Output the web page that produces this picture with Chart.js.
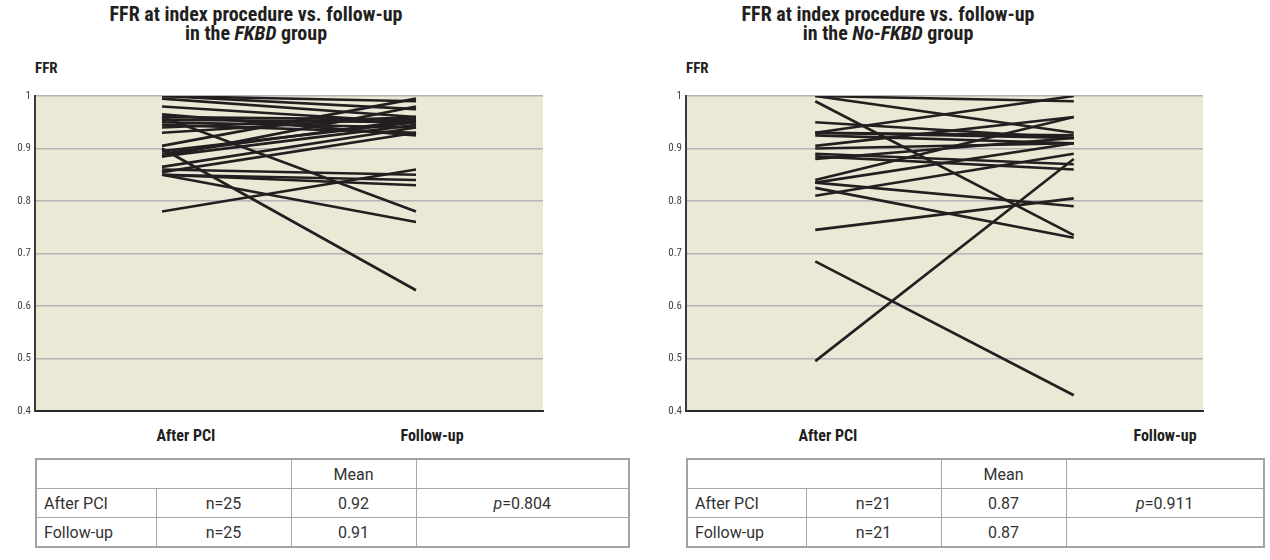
<!DOCTYPE html>
<html>
<head>
<meta charset="utf-8">
<script src="https://cdn.jsdelivr.net/npm/chart.js@4.4.1/dist/chart.umd.min.js"></script>
<style>
  body { margin: 0; background: #fff; width: 1270px; height: 560px; position: relative; overflow: hidden;
         font-family: "Roboto Condensed", Roboto, "Liberation Sans", sans-serif; color: #231f20; }
  .title { position: absolute; top: 5px; width: 440px; text-align: center; font-weight: bold; font-size: 20px; line-height: 19px; }
  .ylab { position: absolute; top: 59px; font-weight: bold; font-size: 15px; }
  .xlab { position: absolute; top: 426px; font-weight: bold; font-size: 16px; transform: translateX(-50%); white-space: nowrap; }
  canvas { position: absolute; top: 80px; }
  table { position: absolute; top: 458px; border-collapse: collapse; border: 2px solid #a3a3a3;
          font-family: Roboto, "Liberation Sans", sans-serif; font-size: 16px; color: #333; }
  td { border: 1px solid #a8a8a8; height: 28px; padding: 0; text-align: center; }
  td.lbl { text-align: left; padding-left: 7px; }
</style>
</head>
<body>
<div class="title" style="left:36px">FFR at index procedure vs. follow-up<br>in the <i>FKBD</i> group</div>
<div class="title" style="left:668px">FFR at index procedure vs. follow-up<br>in the <i>No-FKBD</i> group</div>
<div class="ylab" style="left:35px">FFR</div>
<div class="ylab" style="left:686px">FFR</div>
<div class="xlab" style="left:186px">After PCI</div>
<div class="xlab" style="left:432px">Follow-up</div>
<div class="xlab" style="left:828px">After PCI</div>
<div class="xlab" style="left:1165px">Follow-up</div>
<canvas id="left" width="560" height="345" style="left:0px"></canvas>
<canvas id="right" width="600" height="345" style="left:640px"></canvas>
<table id="tblLeft" style="left:35px; width:595px"></table>
<table id="tblRight" style="left:686px; width:579px"></table>
<script>
const categories = ["After PCI", "Follow-up"];

// FKBD group, one patient per index
const fkbdAfterPci = [1.00, 1.00, 0.995, 0.98, 0.96, 0.96, 0.955, 0.95, 0.945, 0.94, 0.965, 0.93, 0.905,
  0.90, 0.895, 0.89, 0.885, 0.885, 0.865, 0.86, 0.855, 0.85, 0.85, 0.85, 0.78];
const fkbdFollowUp = [0.99, 0.975, 0.96, 0.95, 0.78, 0.955, 0.95, 0.94, 0.93, 0.96, 0.925, 0.96, 0.995,
  0.63, 0.95, 0.955, 0.98, 0.945, 0.94, 0.85, 0.93, 0.84, 0.83, 0.76, 0.86];

// No-FKBD group
const noFkbdAfterPci = [1.00, 1.00, 0.99, 0.95, 0.93, 0.93, 0.925, 0.905, 0.90, 0.89, 0.885, 0.88, 0.84,
  0.835, 0.835, 0.825, 0.81, 0.745, 0.685, 0.495, 0.93];
const noFkbdFollowUp = [0.99, 0.93, 0.735, 0.92, 1.00, 0.92, 0.91, 0.96, 0.91, 0.87, 0.86, 0.92, 0.96,
  0.91, 0.79, 0.73, 0.89, 0.805, 0.43, 0.88, 0.925];

// summary table
const rowLabels = ["After PCI", "Follow-up"];
const fkbdN = [25, 25];
const fkbdMean = ["0.92", "0.91"];
const fkbdP = "0.804";
const noFkbdN = [21, 21];
const noFkbdMean = ["0.87", "0.87"];
const noFkbdP = "0.911";

const FONT = '"Roboto Condensed", Roboto, sans-serif';

const plotBackground = {
  id: "plotBackground",
  beforeDraw(chart) {
    const { ctx, chartArea: a } = chart;
    ctx.save();
    ctx.fillStyle = "#ebe8d6";
    ctx.fillRect(a.left, a.top, a.right - a.left, a.bottom - a.top);
    ctx.restore();
  },
};

function makeChart(id, after, follow, padLeft, padRight) {
  const ctx = document.getElementById(id).getContext("2d");
  return new Chart(ctx, {
    type: "line",
    data: {
      labels: categories,
      datasets: after.map((v, i) => ({
        data: [v, follow[i]],
        borderColor: "#231f20",
        borderWidth: 2.6,
        pointRadius: 0,
        tension: 0,
      })),
    },
    options: {
      responsive: false,
      animation: false,
      devicePixelRatio: 1,
      layout: { padding: { top: 16, left: padLeft, right: padRight, bottom: 0 } },
      plugins: { legend: { display: false }, tooltip: { enabled: false }, title: { display: false } },
      scales: {
        x: {
          offset: true,
          grid: { display: false },
          border: { display: true, color: "#2a2a2a", width: 2 },
          ticks: { display: false },
          afterFit(scale) { scale.height = 14; },
        },
        y: {
          min: 0.4,
          max: 1,
          ticks: {
            stepSize: 0.1, padding: 4, color: "#444", font: { family: FONT, size: 11 },
            callback: (v) => (Math.abs(v - 1) < 1e-9 ? "1" : v.toFixed(1)),
          },
          grid: { color: "#b4b4b4", lineWidth: 1.5, drawTicks: false },
          border: { display: true, color: "#3a3a3a", width: 2 },
          afterFit(scale) { scale.width = 35; },
        },
      },
    },
    plugins: [plotBackground],
  });
}

makeChart("left", fkbdAfterPci, fkbdFollowUp, 0, 17);
makeChart("right", noFkbdAfterPci, noFkbdFollowUp, 11, 37);

function fillTable(id, n, mean, p, widths) {
  const t = document.getElementById(id);
  let html = `<colgroup>${widths.map(w => `<col style="width:${w}px">`).join("")}<col></colgroup>`;
  html += `<tr><td colspan="2"></td><td>Mean</td><td></td></tr>`;
  rowLabels.forEach((lab, i) => {
    html += `<tr><td class="lbl">${lab}</td><td>n=${n[i]}</td><td>${mean[i]}</td>` +
      `<td>${i === 0 ? `<i>p</i>=${p}` : ""}</td></tr>`;
  });
  t.innerHTML = html;
}

fillTable("tblLeft", fkbdN, fkbdMean, fkbdP, [120, 135, 125]);
fillTable("tblRight", noFkbdN, noFkbdMean, noFkbdP, [119, 135, 125]);
</script>
</body>
</html>
